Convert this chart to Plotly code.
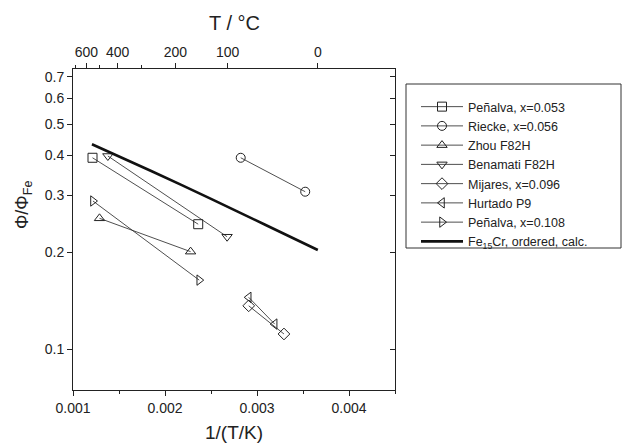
import plotly.graph_objects as go
import numpy as np

# ---- data ----
names = ["Peñalva, x=0.053", "Riecke, x=0.056", "Zhou F82H", "Benamati F82H",
         "Mijares, x=0.096", "Hurtado P9", "Peñalva, x=0.108"]
symbols = ["square-open", "circle-open", "triangle-up-open", "triangle-down-open",
           "diamond-open", "triangle-left-open", "triangle-right-open"]
invT = [
    [0.001212, 0.002361],
    [0.002823, 0.003524],
    [0.001288, 0.002278],
    [0.001379, 0.002675],
    [0.002910, 0.003293],
    [0.002910, 0.003192],
    [0.001217, 0.002372],
]
ratio = [
    [0.393, 0.2445],
    [0.393, 0.3084],
    [0.255, 0.201],
    [0.398, 0.2236],
    [0.1365, 0.1116],
    [0.145, 0.1198],
    [0.2886, 0.164],
]
calc_name = "Fe<sub>15</sub>Cr, ordered, calc."
calc_invT = [0.001206, 0.001856, 0.002506, 0.003083, 0.003661]
calc_ratio = [0.4327, 0.357, 0.2925, 0.2440, 0.2033]

y_ticks = [0.1, 0.2, 0.3, 0.4, 0.5, 0.6, 0.7]
top_T_major = [600, 400, 200, 100, 0]
top_T_minor = [700, 500, 300]

xr = [0.001, 0.0045]
yr = [np.log10(0.0748), np.log10(0.741)]

FONT = "Liberation Sans, Arial, sans-serif"
AX = "#222"

fig = go.Figure()
for n, s, xs, ys in zip(names, symbols, invT, ratio):
    fig.add_trace(go.Scatter(
        x=xs, y=ys, name=n, mode="lines+markers",
        line=dict(color="#222", width=0.8),
        marker=dict(symbol=s, size=9, color="#222", line=dict(width=1)),
    ))
fig.add_trace(go.Scatter(
    x=calc_invT, y=calc_ratio, name=calc_name, mode="lines",
    line=dict(color="#111", width=2.6, shape="spline", smoothing=0.8),
))

# dummy traces to host extra axes
fig.add_trace(go.Scatter(x=[None], y=[None], xaxis="x2", showlegend=False))
fig.add_trace(go.Scatter(x=[None], y=[None], xaxis="x3", showlegend=False))
fig.add_trace(go.Scatter(x=[None], y=[None], yaxis="y2", showlegend=False))

tc = lambda T: 1.0 / (T + 273.15)

fig.update_layout(
    width=623, height=445,
    margin=dict(l=73, r=228, t=69, b=55),
    paper_bgcolor="white", plot_bgcolor="white",
    font=dict(family=FONT, size=14, color="#222"),
    showlegend=True,
    legend=dict(x=(416 - 73) / 322.0, y=(390 - 92) / 321.0, xanchor="left", yanchor="top",
                font=dict(size=12.5, family=FONT), bgcolor="rgba(0,0,0,0)",
                borderwidth=0, itemwidth=42, tracegroupgap=0),
    xaxis=dict(range=xr, showgrid=False, zeroline=False, showline=True,
               linecolor=AX, linewidth=1, ticks="outside", ticklen=5,
               tickcolor=AX, dtick=0.001, tick0=0.001, tickformat=".3f",
               minor=dict(dtick=0.0005, tick0=0.001, ticks="outside", ticklen=3,
                          tickcolor=AX, showgrid=False),
               tickfont=dict(size=14)),
    xaxis2=dict(range=xr, overlaying="x", side="top", showgrid=False,
                zeroline=False, showline=True, linecolor=AX, linewidth=1,
                ticks="outside", ticklen=5, tickcolor=AX,
                tickvals=[tc(t) for t in top_T_major],
                ticktext=[str(t) for t in top_T_major],
                tickfont=dict(size=14)),
    xaxis3=dict(range=xr, overlaying="x", side="top", showgrid=False,
                zeroline=False, showline=False, ticks="outside", ticklen=3,
                tickcolor=AX, tickvals=[tc(t) for t in top_T_minor],
                showticklabels=False),
    yaxis=dict(type="log", range=yr, showgrid=False, zeroline=False,
               showline=True, linecolor=AX, linewidth=1, ticks="outside",
               ticklen=5, tickcolor=AX, tickvals=y_ticks,
               ticktext=[str(v) for v in y_ticks], tickfont=dict(size=14)),
    yaxis2=dict(type="log", range=yr, overlaying="y", side="right",
                showgrid=False, zeroline=False, showline=True, linecolor=AX,
                linewidth=1, ticks="inside", ticklen=5, tickcolor=AX,
                tickvals=y_ticks, showticklabels=False),
    shapes=[dict(type="rect", xref="paper", yref="paper",
                 x0=(406 - 73) / 322.0, x1=(621 - 73) / 322.0,
                 y0=(390 - 248) / 321.0, y1=(390 - 84) / 321.0,
                 line=dict(color="#333", width=1))],
    annotations=[
        dict(text="T / °C", xref="paper", yref="paper", x=0.5, y=(390 - 23) / 321.0,
             showarrow=False, font=dict(size=20, family=FONT), yanchor="middle"),
        dict(text="1/(T/K)", xref="paper", yref="paper", x=0.5, y=(390 - 432) / 321.0,
             showarrow=False, font=dict(size=19, family=FONT), yanchor="middle"),
        dict(text="Φ/Φ<sub>Fe</sub>", xref="paper", yref="paper",
             x=(23 - 73) / 322.0, y=(390 - 205) / 321.0, textangle=-90,
             showarrow=False, font=dict(size=18, family=FONT),
             xanchor="center", yanchor="middle"),
    ],
)

fig.write_html("out.html", config={"displayModeBar": False},
               post_script="document.body.style.margin='0';document.body.style.padding='0';")
